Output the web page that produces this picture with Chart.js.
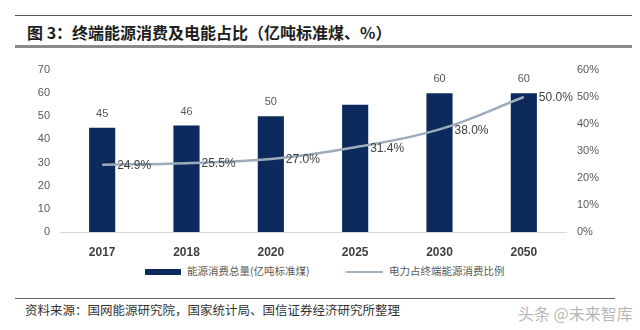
<!DOCTYPE html>
<html>
<head>
<meta charset="utf-8">
<script src="https://cdn.jsdelivr.net/npm/chart.js@4/dist/chart.umd.min.js"></script>
<style>
  body { margin: 0; background: #fff; }
  #wrap { position: relative; width: 640px; height: 330px; overflow: hidden; font-family: 'Noto Sans CJK SC', sans-serif; }
  .rule { position: absolute; left: 15px; width: 617px; }
  #titulo { position: absolute; left: 27px; top: 20px; font-size: 16px; font-weight: bold; color: #1e1e1e; white-space: nowrap; }
  #grafico { position: absolute; left: 0; top: 0; }
  .leg { position: absolute; top: 263px; font-size: 10.5px; color: #595959; white-space: nowrap; }
  .leg span { display: inline-block; vertical-align: middle; margin-right: 6px; }
  #fonte { position: absolute; left: 25px; top: 300px; font-size: 12.5px; color: #333; white-space: nowrap; }
  #marca { position: absolute; left: 518px; top: 301px; font-size: 16px; color: rgba(120,120,120,0.55); white-space: nowrap; }
</style>
</head>
<body>
<div id="wrap">
  <div class="rule" style="top:15px;height:1px;background:#555;"></div>
  <div id="titulo">图 3：终端能源消费及电能占比（亿吨标准煤、%）</div>
  <div class="rule" style="top:45px;height:3px;background:#8a8a8a;"></div>
  <canvas id="grafico" width="640" height="260"></canvas>
  <div class="leg" style="left:145px;"><span style="width:36px;height:6px;background:#0c2b5c;"></span>能源消费总量(亿吨标准煤)</div>
  <div class="leg" style="left:346px;"><span style="width:37px;height:2px;background:#a3b0bf;"></span>电力占终端能源消费比例</div>
  <div class="rule" style="top:298px;height:1px;background:#666;width:600px;"></div>
  <div id="fonte">资料来源：国网能源研究院，国家统计局、国信证券经济研究所整理</div>
  <div id="marca">头条 @未来智库</div>
</div>
<script>
// anos do gráfico
const anos = ['2017', '2018', '2020', '2025', '2030', '2050'];
// consumo total (亿吨标准煤)
const consumo = [45, 46, 50, 55, 60, 60];
// rótulos das barras (2025 não tem rótulo no original)
const rotulosConsumo = ['45', '46', '50', null, '60', '60'];
// participação da eletricidade (%)
const participacao = [24.9, 25.5, 27.0, 31.4, 38.0, 50.0];

const fonteNum = "'Liberation Sans Narrow', 'Liberation Sans', sans-serif";

// plugin simples para escrever os valores
const rotulos = {
  id: 'rotulos',
  afterDatasetsDraw(chart) {
    const ctx = chart.ctx;
    ctx.save();
    ctx.textBaseline = 'middle';

    ctx.font = '11px ' + fonteNum;
    ctx.fillStyle = '#595959';
    ctx.textAlign = 'center';
    chart.getDatasetMeta(0).data.forEach((barra, i) => {
      if (rotulosConsumo[i] == null) return;
      ctx.fillText(rotulosConsumo[i], barra.x, barra.y - 14);
    });

    ctx.font = '12px ' + fonteNum;
    ctx.fillStyle = '#404040';
    ctx.textAlign = 'left';
    chart.getDatasetMeta(1).data.forEach((ponto, i) => {
      ctx.fillText(participacao[i].toFixed(1) + '%', ponto.x + 15, ponto.y + 1);
    });
    ctx.restore();
  }
};

const ctx = document.getElementById('grafico').getContext('2d');
new Chart(ctx, {
  data: {
    labels: anos,
    datasets: [{
      type: 'bar',
      label: '能源消费总量(亿吨标准煤)',
      data: consumo,
      backgroundColor: '#0c2b5c',
      yAxisID: 'y',
      barPercentage: 0.31,
      categoryPercentage: 1,
      order: 2
    }, {
      type: 'line',
      label: '电力占终端能源消费比例',
      data: participacao,
      borderColor: '#9eabbb',
      borderWidth: 2.5,
      pointRadius: 0,
      tension: 0.4,
      fill: false,
      yAxisID: 'y1',
      order: 1
    }]
  },
  options: {
    responsive: false,
    animation: false,
    layout: { padding: { top: 70, left: 0, right: 0, bottom: 0 } },
    plugins: {
      legend: { display: false },
      tooltip: { enabled: false }
    },
    scales: {
      x: {
        grid: { display: false },
        border: { color: '#d9d9d9', width: 1 },
        ticks: { color: '#404040', font: { family: fonteNum, size: 12, weight: 'bold' }, padding: 5 },
        afterFit(scale) { scale.height = 28; }
      },
      y: {
        position: 'left',
        min: 0, max: 70,
        ticks: { stepSize: 10, color: '#595959', font: { family: fonteNum, size: 11 }, padding: 10 },
        grid: { display: false, drawTicks: false },
        border: { display: false },
        afterFit(scale) { scale.width = 60; }
      },
      y1: {
        position: 'right',
        min: 0, max: 60,
        ticks: {
          stepSize: 10, color: '#595959', font: { family: fonteNum, size: 11 }, padding: 11,
          callback: v => v + '%'
        },
        grid: { display: false, drawTicks: false },
        border: { display: false },
        afterFit(scale) { scale.width = 74; }
      }
    }
  },
  plugins: [rotulos]
});
</script>
</body>
</html>
